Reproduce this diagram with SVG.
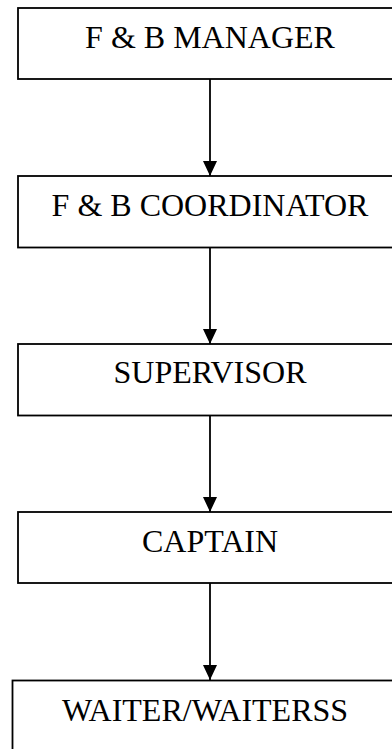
<svg xmlns="http://www.w3.org/2000/svg" width="392" height="749" viewBox="0 0 392 749">
<defs>
<style>
.box{fill:#fff;stroke:#000;stroke-width:1.8}
.lbl{font-family:"Liberation Serif","Times New Roman",serif;font-size:32px;fill:#000;text-anchor:middle}
.conn{stroke:#000;stroke-width:1.8;fill:none}
</style>
<marker id="ah" markerWidth="15" markerHeight="14" refX="15" refY="7" orient="auto" markerUnits="userSpaceOnUse" viewBox="0 0 15 14">
<path d="M0,0 L15,7 L0,14 Z" fill="#000"/>
</marker>
</defs>
<rect width="392" height="749" fill="#fff"/>
<g id="connectors">
<line class="conn" x1="210" y1="79" x2="210" y2="176" marker-end="url(#ah)"/>
<line class="conn" x1="210" y1="247.5" x2="210" y2="344" marker-end="url(#ah)"/>
<line class="conn" x1="210" y1="415.5" x2="210" y2="512" marker-end="url(#ah)"/>
<line class="conn" x1="210" y1="583" x2="210" y2="680" marker-end="url(#ah)"/>
</g>
<g id="node-manager">
<rect class="box" x="18" y="8" width="400" height="71"/>
<text class="lbl" x="210" y="48">F &amp; B MANAGER</text>
</g>
<g id="node-coordinator">
<rect class="box" x="18" y="176" width="400" height="71.5"/>
<text class="lbl" x="210" y="216">F &amp; B COORDINATOR</text>
</g>
<g id="node-supervisor">
<rect class="box" x="18" y="344" width="400" height="71.5"/>
<text class="lbl" x="210" y="383">SUPERVISOR</text>
</g>
<g id="node-captain">
<rect class="box" x="18" y="512" width="400" height="71"/>
<text class="lbl" x="210" y="552">CAPTAIN</text>
</g>
<g id="node-waiter">
<rect class="box" x="12.5" y="680.5" width="400" height="100"/>
<text class="lbl" x="205" y="721">WAITER/WAITERSS</text>
</g>
</svg>
